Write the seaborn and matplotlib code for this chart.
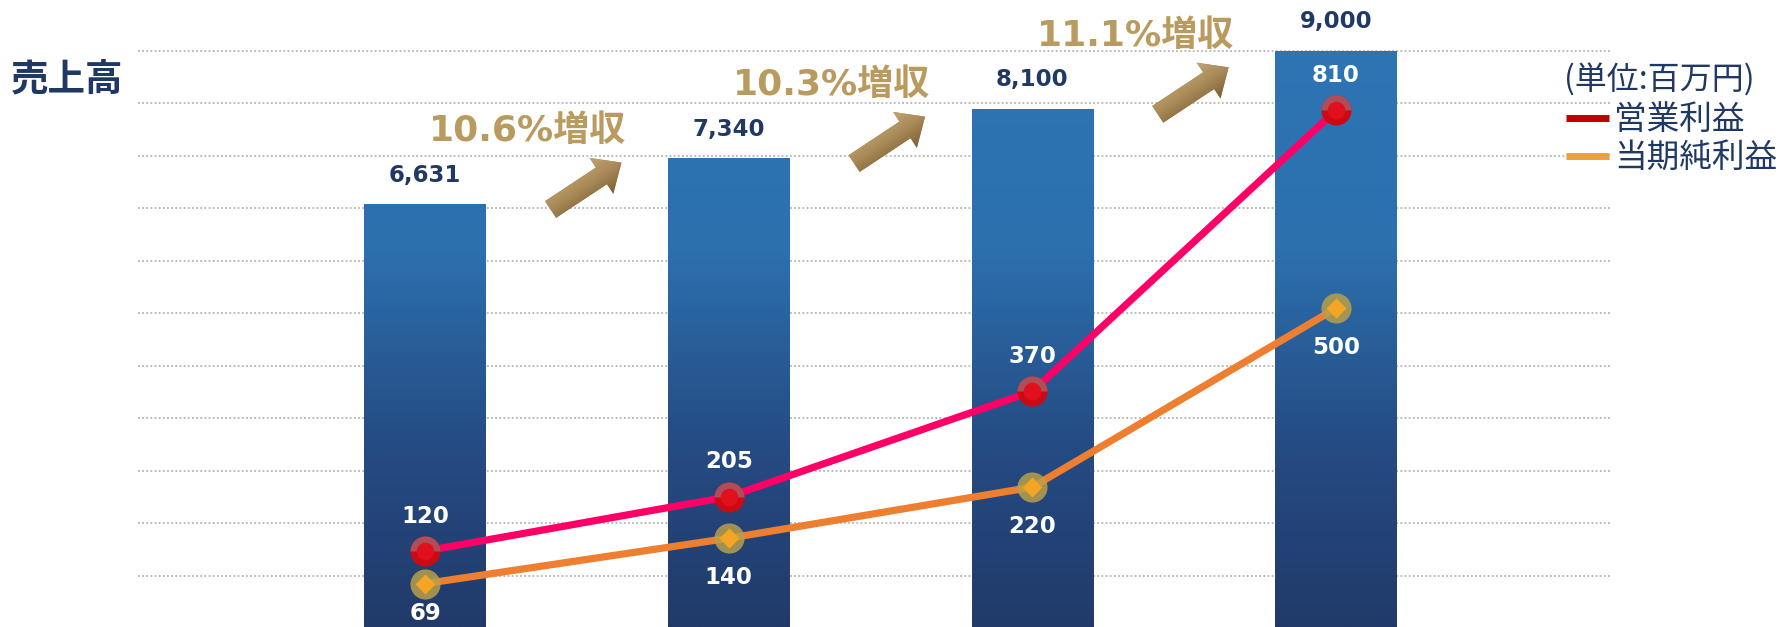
import numpy as np
import pandas as pd
import matplotlib
matplotlib.use("Agg")
import matplotlib.pyplot as plt
import seaborn as sns
from matplotlib import transforms as mtransforms
from matplotlib.patches import Polygon
from matplotlib.lines import Line2D
from matplotlib.path import Path
from matplotlib.colors import LinearSegmentedColormap

# ---------------- data ----------------
periods = ["第1期", "第2期", "第3期", "第4期"]
sales = [6631, 7340, 8100, 9000]
operating_profit = [120, 205, 370, 810]
net_profit = [69, 140, 220, 500]
growth_labels = ["10.6%増収", "10.3%増収", "11.1%増収"]
series_names = ["営業利益", "当期純利益"]
unit_label = "(単位:百万円)"
title_label = "売上高"

# ---------------- style ----------------
sns.set_theme(style="white")
plt.rcParams["font.family"] = ["DejaVu Sans", "Noto Sans CJK JP"]
CJK = ["Noto Sans CJK JP", "DejaVu Sans"]
NAVY = "#1f3864"
GOLD = "#b99a5f"

W, H, DPI = 1781, 627, 100
fig = plt.figure(figsize=(W / DPI, H / DPI), dpi=DPI)
ax = fig.add_axes([138 / W, 0, (1610 - 138) / W, 1])

df = pd.DataFrame({"period": periods, "sales": sales,
                   "op": operating_profit, "net": net_profit})
df["idx"] = np.arange(len(df))

XLIM = (-0.9457, 3.903)
YLIM_BAR = (106, 9782)
YLIM_LINE = (1, 983)

sns.barplot(data=df, x="period", y="sales", ax=ax, width=0.40,
            color="#2e75b6", linewidth=0, saturation=1, zorder=2)
ax.set_xlim(*XLIM)
ax.set_ylim(*YLIM_BAR)

# gradient fill for bars (axis-wide vertical gradient clipped to each bar)
bar_cmap = LinearSegmentedColormap.from_list(
    "bar", [(0.0, "#213a6a"), (0.3, "#254c84"), (0.6, "#2c70ae"), (1.0, "#2e76b6")])
grad = np.linspace(0, 1, 256).reshape(-1, 1)
for p in ax.patches:
    im = ax.imshow(grad, extent=[XLIM[0], XLIM[1], YLIM_BAR[0], YLIM_BAR[1]],
                   origin="lower", aspect="auto", cmap=bar_cmap, zorder=2.1)
    im.set_clip_path(p)

# grid lines
ax.set_yticks(np.arange(9000, 0, -810))
ax.yaxis.grid(True, color="#b4b4b4", linestyle=(0, (1, 1.3)), linewidth=1.3)
ax.xaxis.grid(False)
ax.set_axisbelow(True)
ax.set_xlabel("")
ax.set_ylabel("")
for s in ax.spines.values():
    s.set_visible(False)

# bar value labels
for i, v in enumerate(sales):
    ax.annotate(f"{v:,}", (i, v), xytext=(0, 29), textcoords="offset pixels",
                ha="center", va="center", fontsize=16.5, fontweight="bold",
                color=NAVY, zorder=5)

# growth arrows
arrow_verts = np.array([(-42.5, -10), (18.5, -10), (18.5, -21.5), (42.5, 0),
                        (18.5, 21.5), (18.5, 10), (-42.5, 10)])
arrow_cmap = LinearSegmentedColormap.from_list("arr", ["#7a5c32", "#a88a58", "#c4a774"])
agrad = np.linspace(0, 1, 64).reshape(-1, 1)
for i, lab in enumerate(growth_labels):
    cx, cy = i + 0.53, sales[i] + 280
    tr = (mtransforms.Affine2D().rotate_deg(33.5)
          + mtransforms.ScaledTranslation(cx, cy, ax.transData))
    poly = Polygon(arrow_verts, closed=True, transform=tr, facecolor="#a08050",
                   edgecolor="none", zorder=3)
    ax.add_patch(poly)
    aim = ax.imshow(agrad, extent=[-45, 45, -23, 23], origin="lower",
                    aspect="auto", cmap=arrow_cmap, zorder=3.1)
    aim.set_transform(tr)
    aim.set_clip_path(poly)
    ax.annotate(lab, (cx, cy), xytext=(-58, 55), textcoords="offset pixels",
                ha="center", va="center", fontsize=26, fontweight="bold",
                color=GOLD, family=["DejaVu Sans", "Noto Sans CJK JP"], zorder=5)

ax.set_xlim(*XLIM)
ax.set_ylim(*YLIM_BAR)

# ---------------- lines ----------------
ax2 = ax.twinx()
sns.lineplot(data=df, x="idx", y="op", ax=ax2, color="#ff0066", linewidth=5.2,
             zorder=3, legend=False)
sns.lineplot(data=df, x="idx", y="net", ax=ax2, color="#ee7f30", linewidth=5.2,
             zorder=3, legend=False)

half_disk = Path.wedge(0, 180)
# operating profit markers
ax2.scatter(df["idx"], df["op"], s=470, color="#cc0a14", linewidths=0, zorder=4)
ax2.scatter(df["idx"], df["op"], s=470, marker=half_disk, color="#a8646e",
            alpha=0.75, linewidths=0, zorder=4.1)
ax2.scatter(df["idx"], df["op"], s=160, color="#e0101e", linewidths=0, zorder=4.2)
# net profit markers
ax2.scatter(df["idx"], df["net"], s=470, color="#b8a04a", alpha=0.85,
            linewidths=0, zorder=4)
ax2.scatter(df["idx"], df["net"], s=104, marker="D", color="#f5a524",
            linewidths=0, zorder=4.1)

ax2.set_xlim(*XLIM)
ax2.set_ylim(*YLIM_LINE)
ax2.set_ylabel("")
ax2.set_xlabel("")
ax2.grid(False)
for s in ax2.spines.values():
    s.set_visible(False)
for a in (ax, ax2):
    a.tick_params(axis="both", which="both", length=0, left=False, right=False,
                  bottom=False, top=False, labelleft=False, labelright=False,
                  labelbottom=False, labeltop=False)

for i, v in enumerate(operating_profit):
    ax2.annotate(f"{v:,}", (i, v), xytext=(0, 35), textcoords="offset pixels",
                 ha="center", va="center", fontsize=16.5, fontweight="bold",
                 color="white", zorder=6)
for i, v in enumerate(net_profit):
    ypix = ax2.transData.transform((i, v))[1]
    off = min(39, ypix - 14)
    ax2.annotate(f"{v:,}", (i, v), xytext=(0, -off), textcoords="offset pixels",
                 ha="center", va="center", fontsize=16.5, fontweight="bold",
                 color="white", zorder=6)

# ---------------- titles & legend ----------------
fig.text(67 / W, 1 - 79 / H, title_label, ha="center", va="center",
         fontsize=27, fontweight="bold", color=NAVY, family=CJK)
fig.text(1659 / W, 1 - 80 / H, unit_label, ha="center", va="center",
         fontsize=23, color=NAVY, family=CJK)
handles = [Line2D([], [], color="#c00000", linewidth=5, solid_capstyle="butt"),
           Line2D([], [], color="#eba040", linewidth=5, solid_capstyle="butt")]
leg = fig.legend(handles, series_names, loc="center left",
                 bbox_to_anchor=(1566 / W, 1 - 139 / H), frameon=False,
                 prop={"family": CJK, "size": 23.5}, handlelength=1.32,
                 handletextpad=0.15, labelspacing=0.18, borderpad=0,
                 borderaxespad=0)
for t in leg.get_texts():
    t.set_color(NAVY)

fig.savefig("out.png", dpi=DPI)
